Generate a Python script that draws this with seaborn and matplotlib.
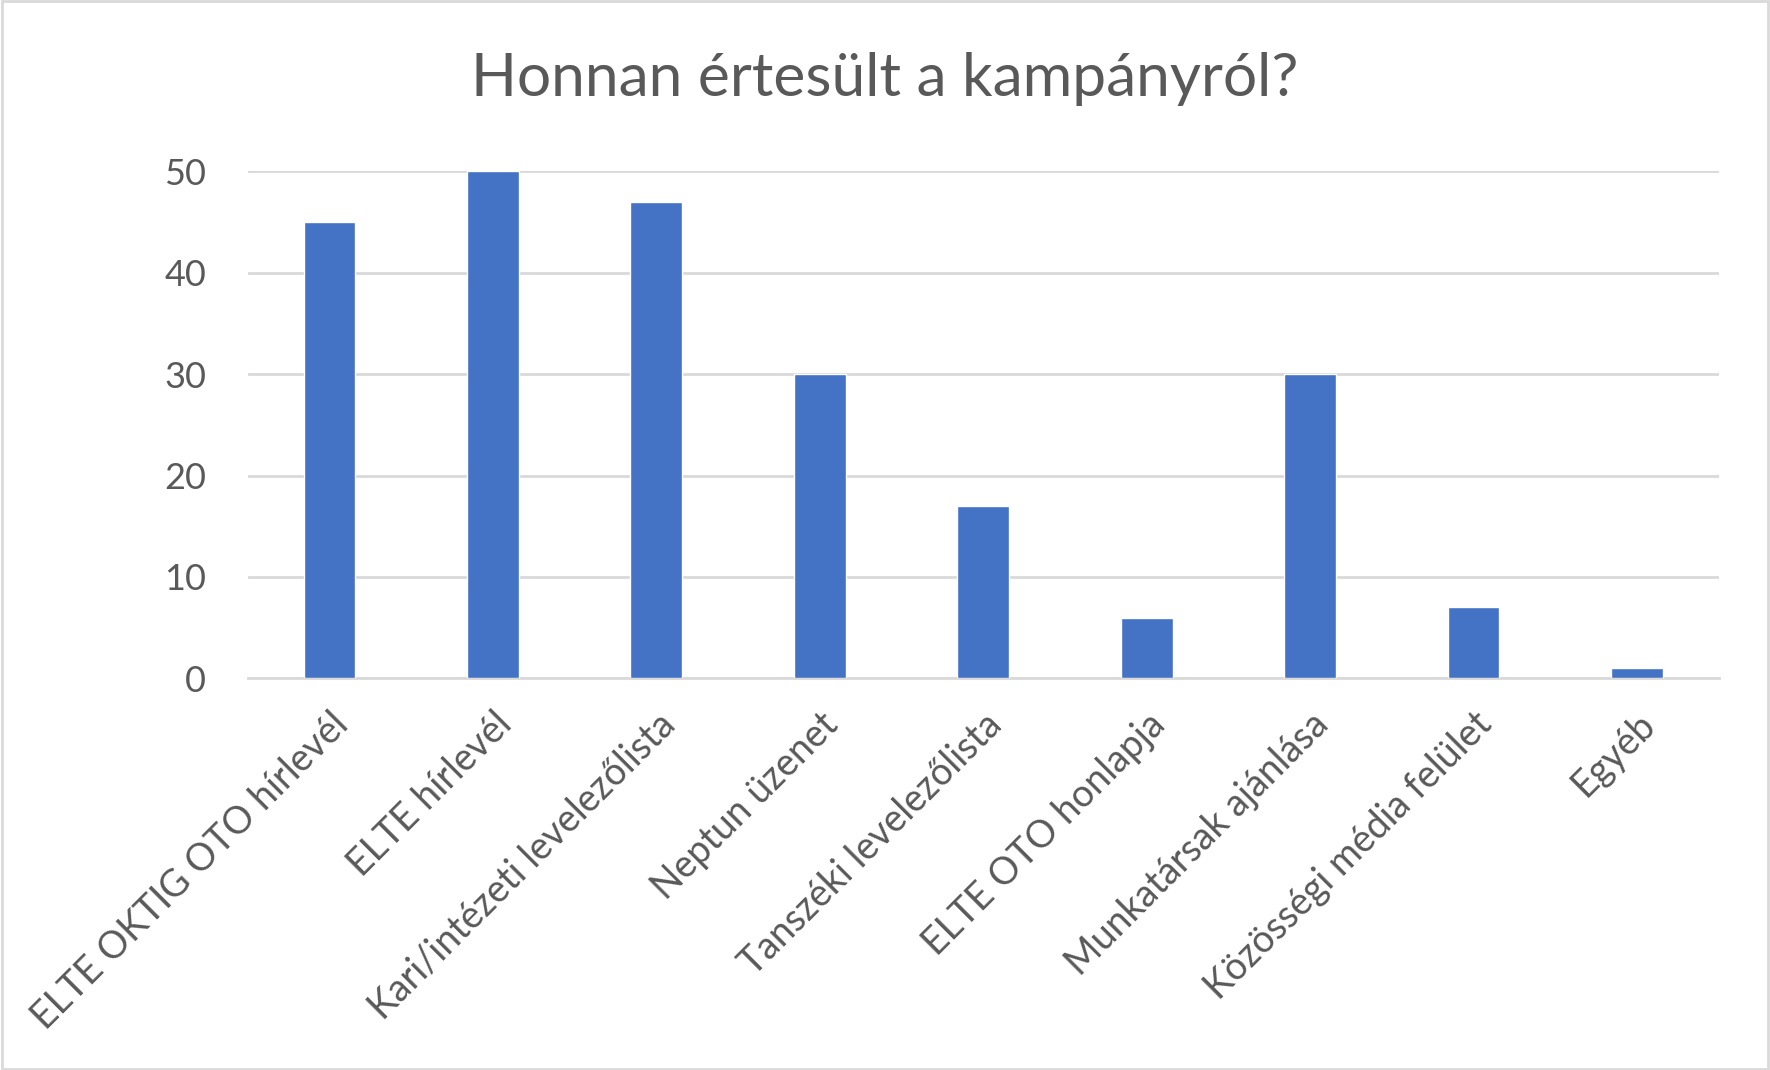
import matplotlib
matplotlib.use("Agg")
import matplotlib.pyplot as plt
import seaborn as sns
import pandas as pd

categories = ["ELTE OKTIG OTO hírlevél", "ELTE hírlevél", "Kari/intézeti levelezőlista",
              "Neptun üzenet", "Tanszéki levelezőlista", "ELTE OTO honlapja",
              "Munkatársak ajánlása", "Közösségi média felület", "Egyéb"]
values = [45, 50, 47, 30, 17, 6, 30, 7, 1]
yticks = [0, 10, 20, 30, 40, 50]
title = "Honnan értesült a kampányról?"

sns.set_theme(style="white")
plt.rcParams['font.family'] = ['Lato', 'DejaVu Sans']

df = pd.DataFrame({"cat": categories, "val": values})

fig = plt.figure(figsize=(17.7, 10.7), dpi=100)
ax = fig.add_axes([0.140, 0.366, 0.831, 0.474])
sns.barplot(data=df, x="cat", y="val", color="#4472C4", width=0.317, ax=ax, zorder=3,
            saturation=1)
ax.set_ylim(0, 50)
ax.set_yticks(yticks)
ax.yaxis.grid(True, color="#D9D9D9", linewidth=2, zorder=0)
ax.set_axisbelow(True)
for s in ["top", "right", "left"]:
    ax.spines[s].set_visible(False)
ax.spines["bottom"].set_color("#D9D9D9")
ax.spines["bottom"].set_linewidth(2)
ax.set_xlabel("")
ax.set_ylabel("")
ax.tick_params(axis="both", length=0, colors="#595959")
ax.tick_params(axis="y", pad=30, labelsize=26)
ax.set_xlim(-0.5, len(categories) - 0.5)
ax.set_xticks(range(len(categories)))
ax.set_xticklabels(categories, rotation=45, ha="right", va="top", rotation_mode="anchor")
ax.tick_params(axis="x", pad=20, labelsize=27)
fig.text(0.5, 0.926, title, ha="center", va="center", fontsize=43.5, color="#595959")
fig.patches.append(plt.Rectangle((0.001, 0.001), 0.998, 0.998, transform=fig.transFigure,
                                 fill=False, edgecolor="#D9D9D9", linewidth=2))
fig.savefig("out.png", dpi=100, facecolor="white")
